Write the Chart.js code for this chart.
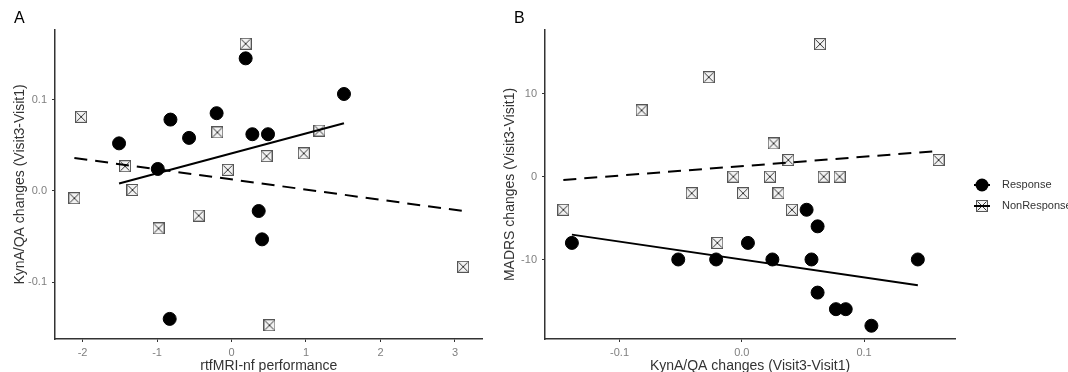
<!DOCTYPE html>
<html>
<head>
<meta charset="utf-8">
<script src="https://cdn.jsdelivr.net/npm/chart.js@4.4.1/dist/chart.umd.min.js"></script>
<style>
    body { margin: 0; background: #fff; }
    #wrapA { position: absolute; left: 0; top: 0; width: 490px; height: 372px; }
    #wrapB { position: absolute; left: 490px; top: 0; width: 578px; height: 372px; }
</style>
</head>
<body>
<div id="wrapA"><canvas id="chartA"></canvas></div>
<div id="wrapB"><canvas id="chartB"></canvas></div>
<script>
// panel A: rtfMRI-nf performance vs KynA/QA change
var respA_x = [0.19, 1.51, -0.2, -0.82, -0.57, -1.51, 0.28, 0.49, -0.99, 0.365, 0.41, -0.83];
var respA_y = [0.145, 0.106, 0.085, 0.078, 0.058, 0.052, 0.062, 0.062, 0.024, -0.022, -0.053, -0.140];
var nonA_x = [0.19, -2.02, -0.19, 1.18, 0.47, 0.97, -1.43, -0.05, -1.33, -2.11, -0.44, -0.98, 3.11, 0.51];
var nonA_y = [0.161, 0.081, 0.064, 0.066, 0.038, 0.041, 0.027, 0.023, 0.001, -0.008, -0.027, -0.041, -0.083, -0.147];
var fitRespA_x = [-1.51, 1.51];
var fitRespA_y = [0.008, 0.074];
var fitNonA_x = [-2.11, 3.11];
var fitNonA_y = [0.036, -0.022];
var ticksXA = [-2, -1, 0, 1, 2, 3];
var ticksYA = [-0.1, 0, 0.1];

// panel B: KynA/QA change vs MADRS change
var respB_x = [0.053, 0.062, -0.139, 0.005, -0.052, -0.021, 0.025, 0.057, 0.144, 0.062, 0.077, 0.085, 0.106];
var respB_y = [-4, -6, -8, -8, -10, -10, -10, -10, -10, -14, -16, -16, -18];
var nonB_x = [0.064, -0.027, -0.082, 0.026, 0.038, 0.161, -0.007, 0.023, 0.067, 0.080, -0.041, 0.001, 0.030, 0.041, -0.146, -0.020];
var nonB_y = [16, 12, 8, 4, 2, 2, 0, 0, 0, 0, -2, -2, -2, -4, -4, -8];
var fitRespB_x = [-0.139, 0.144];
var fitRespB_y = [-7.0, -13.1];
var fitNonB_x = [-0.146, 0.161];
var fitNonB_y = [-0.4, 3.1];
var ticksXB = [-0.1, 0, 0.1];
var ticksYB = [-10, 0, 10];

var groups = ["Response", "NonResponse"];

function pts(xs, ys) {
    var out = [];
    for (var i = 0; i < xs.length; i++) out.push({ x: xs[i], y: ys[i] });
    return out;
}

// square with a cross (ggplot shape 7)
function boxX(size) {
    var c = document.createElement("canvas");
    c.width = size; c.height = size;
    var g = c.getContext("2d");
    g.fillStyle = "#f2f2f2";
    g.fillRect(0, 0, size, size);
    g.strokeStyle = "#555";
    g.lineWidth = 1;
    g.strokeRect(0.5, 0.5, size - 1, size - 1);
    g.strokeStyle = "#333";
    g.beginPath();
    g.moveTo(1.5, 1.5); g.lineTo(size - 1.5, size - 1.5);
    g.moveTo(size - 1.5, 1.5); g.lineTo(1.5, size - 1.5);
    g.stroke();
    return c;
}
var squareMark = boxX(12);

var font = "'Liberation Sans', Arial, sans-serif";

function makeDatasets(rx, ry, nx, ny, frx, fry, fnx, fny) {
    return [
        {
            label: "fitResp", data: pts(frx, fry), showLine: true, pointRadius: 0,
            borderColor: "#000", borderWidth: 2, order: 0
        },
        {
            label: "fitNon", data: pts(fnx, fny), showLine: true, pointRadius: 0,
            borderColor: "#000", borderWidth: 2, borderDash: [13, 8], order: 0
        },
        {
            label: groups[1], data: pts(nx, ny), pointStyle: squareMark,
            pointRadius: 6, order: 1
        },
        {
            label: groups[0], data: pts(rx, ry), pointStyle: "circle",
            pointRadius: 6.5, backgroundColor: "#000", borderColor: "#000", order: 2
        }
    ];
}

function axis(min, max, tickVals, fmt, title, isX) {
    return {
        type: "linear",
        min: min, max: max,
        afterBuildTicks: function (scale) {
            scale.ticks = tickVals.map(function (v) { return { value: v }; });
        },
        afterFit: function (scale) {
            if (isX) scale.height = 33; else scale.width = 55;
        },
        ticks: {
            color: "#7f7f7f",
            font: { family: font, size: 11 },
            padding: isX ? 4 : 5,
            callback: fmt
        },
        grid: { display: true, drawOnChartArea: false, drawTicks: true, tickLength: 3, color: "#333" },
        border: { display: true, color: "#333", width: 1.5 },
        title: {
            display: true, text: title, color: "#333",
            font: { family: font, size: 14 },
            padding: isX ? { top: 0, bottom: -3 } : { top: 12, bottom: 0 }
        }
    };
}

var panelLetter = {
    id: "panelLetter",
    afterDraw: function (chart, args, opts) {
        var ctx = chart.ctx;
        ctx.save();
        ctx.fillStyle = "#000";
        ctx.font = "16px " + font;
        ctx.textBaseline = "middle";
        ctx.fillText(opts.text, opts.x, opts.y);
        ctx.restore();
    }
};

var sideLegend = {
    id: "sideLegend",
    afterDraw: function (chart, args, opts) {
        if (!opts.show) return;
        var ctx = chart.ctx;
        var x = opts.x, y0 = opts.y;
        ctx.save();
        ctx.font = "11px " + font;
        ctx.textBaseline = "middle";
        // Response: filled circle with solid line
        ctx.strokeStyle = "#000";
        ctx.lineWidth = 2;
        ctx.beginPath(); ctx.moveTo(x - 8, y0); ctx.lineTo(x + 8, y0); ctx.stroke();
        ctx.fillStyle = "#000";
        ctx.beginPath(); ctx.arc(x, y0, 6.5, 0, Math.PI * 2); ctx.fill();
        ctx.fillStyle = "#333";
        ctx.fillText(groups[0], x + 20, y0);
        // NonResponse: boxed cross with line
        var y1 = y0 + 21;
        ctx.drawImage(squareMark, x - 6, y1 - 6);
        ctx.beginPath(); ctx.moveTo(x - 8, y1); ctx.lineTo(x + 8, y1); ctx.stroke();
        ctx.fillText(groups[1], x + 20, y1);
        ctx.restore();
    }
};

function fmt1(v) { return v.toFixed(1); }
function fmt0(v) { return String(v); }

new Chart(document.getElementById("chartA"), {
    type: "scatter",
    data: { datasets: makeDatasets(respA_x, respA_y, nonA_x, nonA_y, fitRespA_x, fitRespA_y, fitNonA_x, fitNonA_y) },
    options: {
        responsive: true,
        maintainAspectRatio: false,
        animation: false,
        layout: { padding: { left: 0, right: 5, top: 30, bottom: 0 } },
        scales: {
            x: axis(-2.37, 3.37, ticksXA, fmt0, "rtfMRI-nf performance", true),
            y: axis(-0.162, 0.176, ticksYA, fmt1, "KynA/QA changes (Visit3-Visit1)", false)
        },
        plugins: {
            legend: { display: false },
            tooltip: { enabled: false },
            panelLetter: { text: "A", x: 14, y: 19 },
            sideLegend: { show: false }
        }
    },
    plugins: [panelLetter, sideLegend]
});

new Chart(document.getElementById("chartB"), {
    type: "scatter",
    data: { datasets: makeDatasets(respB_x, respB_y, nonB_x, nonB_y, fitRespB_x, fitRespB_y, fitNonB_x, fitNonB_y) },
    options: {
        responsive: true,
        maintainAspectRatio: false,
        animation: false,
        layout: { padding: { left: 0, right: 113, top: 30, bottom: 0 } },
        scales: {
            x: axis(-0.161, 0.1744, ticksXB, fmt1, "KynA/QA changes (Visit3-Visit1)", true),
            y: axis(-19.6, 17.7, ticksYB, fmt0, "MADRS changes (Visit3-Visit1)", false)
        },
        plugins: {
            legend: { display: false },
            tooltip: { enabled: false },
            panelLetter: { text: "B", x: 24, y: 19 },
            sideLegend: { show: true, x: 492, y: 185 }
        }
    },
    plugins: [panelLetter, sideLegend]
});
</script>
</body>
</html>
